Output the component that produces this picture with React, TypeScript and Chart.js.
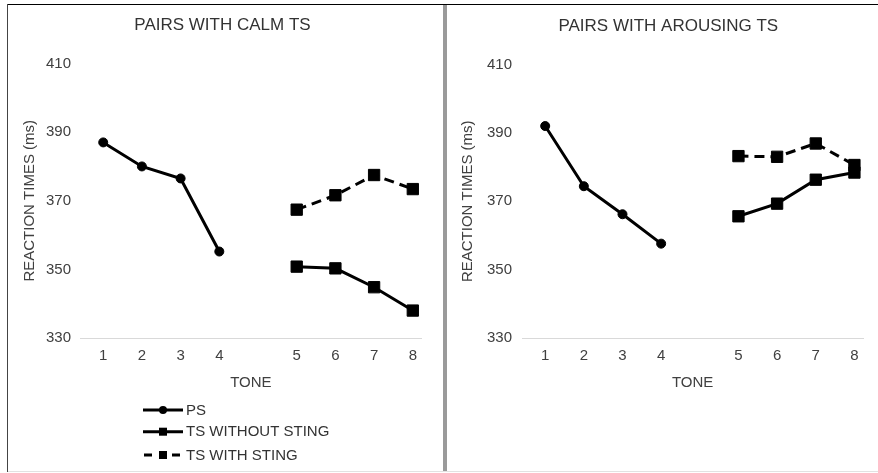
import React, { useEffect, useRef } from 'react';
import { Chart, registerables } from 'chart.js';

Chart.register(...registerables);

// ---- data ----
const TONES = ['1', '2', '3', '4', '', '5', '6', '7', '8'];
const SERIES_NAMES = ['PS', 'TS WITHOUT STING', 'TS WITH STING'];
const Y_TICKS = [330, 350, 370, 390, 410];

const CALM_PS = [387, 380, 376.5, 355.2, null, null, null, null, null];
const CALM_TS_NO_STING = [null, null, null, null, null, 350.8, 350.3, 344.8, 338];
const CALM_TS_STING = [null, null, null, null, null, 367.4, 371.6, 377.5, 373.4];

const AROUSING_PS = [392, 374.4, 366.2, 357.6, null, null, null, null, null];
const AROUSING_TS_NO_STING = [null, null, null, null, null, 365.6, 369.3, 376.3, 378.4];
const AROUSING_TS_STING = [null, null, null, null, null, 383.2, 383, 386.9, 380.6];

const FONT = "'Liberation Sans', Arial, Helvetica, sans-serif";
const TEXT = '#404040';

function toPoints(values: (number | null)[]) {
  return TONES.map((_, i) => ({ x: i + 1, y: values[i] }));
}

const legendPlugin = {
  id: 'sideLegend',
  afterDraw(chart: any) {
    const opts = chart.options.plugins.sideLegend;
    if (!opts || !opts.display) return;
    const ctx = chart.ctx;
    const x0 = opts.x;
    const ys: number[] = opts.ys;
    ctx.save();
    chart.data.datasets.forEach((ds: any, i: number) => {
      const y = ys[i];
      const cx = x0 + 20;
      ctx.strokeStyle = '#000';
      ctx.fillStyle = '#000';
      ctx.lineWidth = 3;
      ctx.beginPath();
      if (ds.borderDash && ds.borderDash.length) {
        ctx.moveTo(x0 + 1, y); ctx.lineTo(x0 + 9, y);
        ctx.moveTo(x0 + 29, y); ctx.lineTo(x0 + 37, y);
      } else {
        ctx.moveTo(x0, y); ctx.lineTo(x0 + 40, y);
      }
      ctx.stroke();
      if (ds.pointStyle === 'circle') {
        ctx.beginPath();
        ctx.arc(cx, y, 4, 0, Math.PI * 2);
        ctx.fill();
      } else {
        ctx.fillRect(cx - 4, y - 4, 8, 8);
      }
      ctx.font = `15px ${FONT}`;
      ctx.fillStyle = '#333';
      ctx.textBaseline = 'middle';
      ctx.textAlign = 'left';
      ctx.fillText(ds.label, x0 + 43, y + 0.5);
    });
    ctx.restore();
  },
};

type PanelProps = {
  title: string;
  ps: (number | null)[];
  noSting: (number | null)[];
  sting: (number | null)[];
  left: number;
  top: number;
  width: number;
  height: number;
  padLeft: number;
  yWidth: number;
  padRight: number;
  yTitlePad: number;
  yTickPad: number;
  legendX: number;
  showLegend: boolean;
};

function ChartPanel(p: PanelProps) {
  const ref = useRef<HTMLCanvasElement | null>(null);
  useEffect(() => {
    if (!ref.current) return;
    const common = {
      borderColor: '#000',
      backgroundColor: '#000',
      pointBackgroundColor: '#000',
      pointBorderColor: '#000',
      pointBorderWidth: 1,
      borderWidth: 3,
      fill: false,
      tension: 0,
      spanGaps: false,
    };
    const chart = new Chart(ref.current, {
      type: 'line',
      data: {
        datasets: [
          { ...common, label: SERIES_NAMES[0], data: toPoints(p.ps), pointStyle: 'circle', pointRadius: 4.5 },
          { ...common, label: SERIES_NAMES[1], data: toPoints(p.noSting), pointStyle: 'rect', pointRadius: 8 },
          { ...common, label: SERIES_NAMES[2], data: toPoints(p.sting), pointStyle: 'rect', pointRadius: 8, borderDash: [10, 6] },
        ] as any,
      },
      options: {
        responsive: false,
        animation: false,
        devicePixelRatio: 1,
        events: [],
        layout: { padding: { left: p.padLeft, right: p.padRight, top: 0, bottom: 79 } },
        plugins: {
          legend: { display: false },
          tooltip: { enabled: false },
          title: {
            display: true,
            text: p.title,
            color: '#333',
            font: { family: FONT, size: 17, weight: 'normal' as any },
            padding: { top: 10.3, bottom: 27.8 },
          },
          sideLegend: { display: p.showLegend, x: p.legendX, ys: [405, 426.7, 450] },
        } as any,
        scales: {
          x: {
            type: 'linear',
            min: 0.4,
            max: 9.23,
            afterBuildTicks: (s: any) => {
              s.ticks = TONES.map((_, i) => ({ value: i + 1 }));
            },
            grid: { display: false, drawTicks: false },
            border: { display: true, color: '#d9d9d9', width: 1 },
            ticks: {
              autoSkip: false,
              maxRotation: 0,
              padding: 9,
              color: TEXT,
              font: { family: FONT, size: 15 },
              callback: (_v: any, i: number) => TONES[i],
            },
            title: {
              display: true,
              text: 'TONE',
              color: TEXT,
              font: { family: FONT, size: 15 },
              padding: { top: 0, bottom: 0 },
            },
          },
          y: {
            min: Y_TICKS[0],
            max: Y_TICKS[Y_TICKS.length - 1],
            afterFit: (s: any) => {
              s.width = p.yWidth;
            },
            afterBuildTicks: (s: any) => {
              s.ticks = Y_TICKS.map((v) => ({ value: v }));
            },
            grid: { display: false, drawTicks: false },
            border: { display: false },
            ticks: {
              padding: p.yTickPad,
              color: TEXT,
              font: { family: FONT, size: 15 },
            },
            title: {
              display: true,
              text: 'REACTION TIMES (ms)',
              color: TEXT,
              font: { family: FONT, size: 15, lineHeight: 1 },
              padding: { top: p.yTitlePad, bottom: 0 },
            },
          },
        } as any,
      },
      plugins: [legendPlugin],
    });
    return () => chart.destroy();
  }, []);
  return (
    <canvas
      ref={ref}
      width={p.width}
      height={p.height}
      style={{ position: 'absolute', left: p.left, top: p.top, width: p.width, height: p.height }}
    />
  );
}

export default function App() {
  return (
    <div
      style={{
        position: 'absolute',
        left: 0,
        top: 0,
        width: 878,
        height: 473,
        overflow: 'hidden',
        background: '#fff',
      }}
    >
      <div style={{ position: 'absolute', left: 7, top: 4, width: 871, height: 1, background: '#000' }} />
      <div style={{ position: 'absolute', left: 7, top: 4, width: 1, height: 468, background: '#444' }} />
      <div style={{ position: 'absolute', left: 443, top: 5, width: 4, height: 467, background: '#9a9a9a' }} />
      <div style={{ position: 'absolute', left: 8, top: 471, width: 870, height: 1, background: '#e2e2e2' }} />
      <ChartPanel
        title="PAIRS WITH CALM TS"
        ps={CALM_PS}
        noSting={CALM_TS_NO_STING}
        sting={CALM_TS_STING}
        left={8}
        top={5}
        width={429}
        height={466}
        padLeft={15.3}
        yWidth={56.7}
        padRight={15.3}
        yTitlePad={-1.3}
        yTickPad={9}
        legendX={135}
        showLegend={true}
      />
      <ChartPanel
        title="PAIRS WITH AROUSING TS"
        ps={AROUSING_PS}
        noSting={AROUSING_TS_NO_STING}
        sting={AROUSING_TS_STING}
        left={448}
        top={6}
        width={440}
        height={465}
        padLeft={25.3}
        yWidth={48.7}
        padRight={24.7}
        yTitlePad={-12.8}
        yTickPad={10}
        legendX={0}
        showLegend={false}
      />
    </div>
  );
}
